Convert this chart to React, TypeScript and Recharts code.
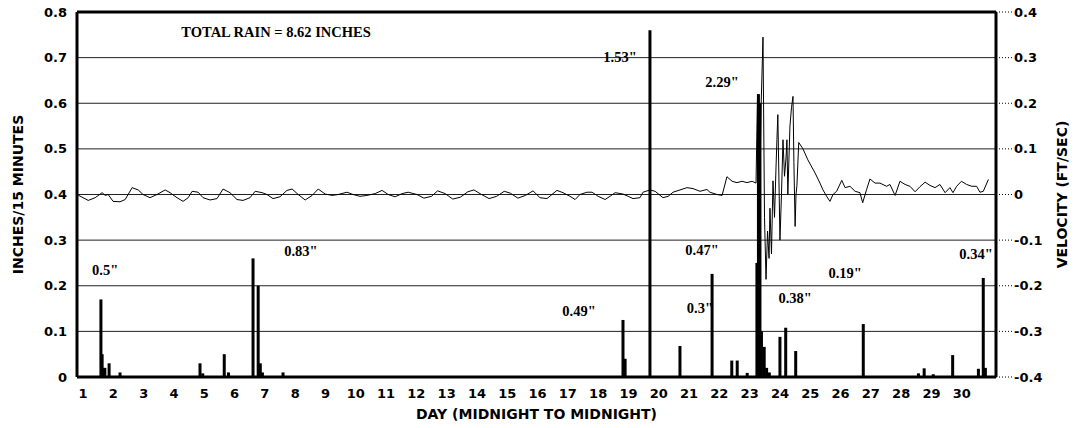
import React from 'react';
import {
  ComposedChart, Bar, Line, XAxis, YAxis, CartesianGrid, ReferenceLine, ReferenceDot,
} from 'recharts';

// ---- data ----
const dayTicks = [1, 2, 3, 4, 5, 6, 7, 8, 9, 10, 11, 12, 13, 14, 15, 16, 17, 18, 19, 20, 21, 22, 23, 24, 25, 26, 27, 28, 29, 30];
const rainTicks = [0, 0.1, 0.2, 0.3, 0.4, 0.5, 0.6, 0.7, 0.8];
const velTicks = [-0.4, -0.3, -0.2, -0.1, 0, 0.1, 0.2, 0.3, 0.4];

const rainDays = [1.59, 1.63, 1.67, 1.72, 1.86, 2.22, 4.86, 4.95, 5.66, 5.80, 6.61, 6.78, 6.85, 6.92, 7.60,
  18.82, 18.89, 19.71, 20.70, 21.76, 22.41, 22.59, 22.92, 23.24, 23.29, 23.34, 23.39, 23.48, 23.56, 23.65,
  24.0, 24.19, 24.52, 26.75, 28.57, 28.76, 29.06, 29.70, 30.55, 30.71, 30.78];
const rainValues = [0.17, 0.05, 0.02, 0.02, 0.03, 0.01, 0.03, 0.008, 0.05, 0.01, 0.26, 0.2, 0.03, 0.01, 0.01,
  0.125, 0.04, 0.76, 0.068, 0.226, 0.036, 0.036, 0.009, 0.25, 0.62, 0.6, 0.1, 0.066, 0.02, 0.01,
  0.088, 0.108, 0.057, 0.116, 0.008, 0.019, 0.006, 0.048, 0.018, 0.217, 0.02];

const velDays = [0.80, 1.17, 1.40, 1.63, 1.73, 1.83, 1.99, 2.22, 2.39, 2.62, 2.82, 2.98, 3.21, 3.44, 3.71, 3.87,
  4.10, 4.30, 4.47, 4.60, 4.80, 4.96, 5.19, 5.42, 5.62, 5.85, 6.08, 6.28, 6.51, 6.68, 6.91, 7.07, 7.27, 7.50,
  7.73, 7.90, 8.10, 8.33, 8.56, 8.76, 8.99, 9.22, 9.42, 9.71, 9.91, 10.14, 10.37, 10.64, 10.87, 11.07, 11.30,
  11.53, 11.73, 12.02, 12.25, 12.5, 12.7, 12.95, 13.2, 13.45, 13.7, 13.9, 14.15, 14.4, 14.65, 14.9, 15.1,
  15.35, 15.6, 15.85, 16.08, 16.31, 16.64, 16.84, 17.07, 17.24, 17.40, 17.63, 17.80, 18.0, 18.23, 18.39,
  18.56, 18.82, 18.99, 19.15, 19.38, 19.48, 19.71, 19.88, 20.14, 20.31, 20.47, 20.70, 20.93, 21.13, 21.36,
  21.59, 21.69, 21.92, 22.09, 22.25, 22.42, 22.58, 22.75, 22.91, 23.08, 23.21,
  23.26, 23.31, 23.38, 23.44, 23.49, 23.54, 23.59, 23.64, 23.67, 23.72, 23.77, 23.82, 23.87, 23.90, 23.93,
  24.0, 24.05, 24.10, 24.15, 24.20, 24.23, 24.26, 24.33, 24.38, 24.43, 24.46, 24.50, 24.53, 24.56, 24.62,
  24.76, 24.92, 25.16, 25.32, 25.42, 25.55, 25.65,
  25.75, 25.87, 26.04, 26.15, 26.31, 26.48, 26.64, 26.73, 26.86, 26.97, 27.14, 27.30, 27.52, 27.63, 27.80,
  27.96, 28.13, 28.29, 28.46, 28.62, 28.79, 28.95, 29.12, 29.28, 29.45, 29.61, 29.71, 29.83, 29.99, 30.16,
  30.33, 30.49, 30.60, 30.71, 30.88];
const velValues = [0, -0.013, -0.007, 0.004, -0.002, 0, -0.015, -0.016, -0.011, 0.015, 0.01, 0, -0.007, 0, 0.01, 0.004,
  -0.007, -0.015, -0.007, 0.007, 0.005, -0.007, -0.012, -0.009, 0.012, 0.004, -0.011, -0.013, -0.007, 0.007, 0.004, 0, -0.009, -0.005,
  0.009, 0.012, 0, -0.012, -0.002, 0.012, 0.001, -0.002, 0, 0.005, 0, -0.004, -0.002, 0.002, 0.009, 0, -0.005,
  0.002, 0.005, 0, -0.008, -0.004, 0.008, 0.002, -0.01, -0.006, 0.006, 0.01, 0, -0.009, -0.004, 0.007, 0.003,
  -0.008, -0.002, 0.008, -0.007, -0.009, 0.009, 0.004, -0.004, -0.011, 0, 0.005, 0.005, -0.004, -0.011, -0.004,
  0.004, 0.001, -0.004, -0.009, -0.007, 0.005, 0.01, 0.007, -0.007, -0.004, 0.005, 0.01, 0.015, 0.013, 0.007,
  0.011, 0.005, 0, -0.002, 0.039, 0.029, 0.026, 0.029, 0.026, 0.029, 0.025,
  0.22, -0.05, 0.2, 0.345, -0.05, -0.186, -0.08, -0.14, -0.03, -0.13, 0.03, -0.05, 0.06, 0.12, 0.175,
  -0.1, 0, 0.12, 0.04, 0.08, 0.12, 0, 0.15, 0.19, 0.215, 0.07, -0.07, 0, 0.02, 0.114,
  0.1, 0.076, 0.047, 0.025, 0.01, -0.005, -0.015,
  0, 0.007, 0.031, 0.015, 0.018, 0.007, 0.004, -0.018, 0.011, 0.034, 0.025, 0.025, 0.018, 0.022, -0.002,
  0.029, 0.022, 0.018, 0.006, 0.017, 0.027, 0.02, 0.015, 0.022, 0.004, 0.015, 0.004, 0.018, 0.029, 0.022,
  0.018, 0.018, 0.005, 0.007, 0.033];

const noteTexts = ['TOTAL RAIN = 8.62 INCHES', '1.53"', '2.29"', '0.5"', '0.83"', '0.49"', '0.47"', '0.3"', '0.38"', '0.19"', '0.34"'];
const noteDays = [7.37, 18.72, 22.09, 1.73, 8.19, 17.37, 21.43, 21.36, 24.5, 26.15, 30.47];
const noteRain = [0.757, 0.702, 0.647, 0.235, 0.276, 0.145, 0.278, 0.151, 0.173, 0.228, 0.27];

// build chart table
const table: Record<number, { day: number; rain?: number; vel?: number }> = {};
rainDays.forEach((d, i) => { table[d] = { ...(table[d] || { day: d }), rain: rainValues[i] }; });
velDays.forEach((d, i) => { table[d] = { ...(table[d] || { day: d }), vel: velValues[i] }; });
const chartData = Object.values(table).sort((a, b) => a.day - b.day);

const tickFont = { fontFamily: '"DejaVu Sans", sans-serif', fontWeight: 'bold', fontSize: 13, fill: '#000' };
const titleFont = { fontFamily: '"DejaVu Sans", sans-serif', fontWeight: 'bold', fontSize: 14, fill: '#000' };
const noteFont = { fontFamily: '"Liberation Serif", "Times New Roman", serif', fontWeight: 'bold', fontSize: 14.5, fill: '#000' };

const fmt = (v: number) => (v === 0 ? '0' : v.toFixed(1));

const SpikeBar = (props: any) => {
  const { x, y, width, height } = props;
  if (height == null || !isFinite(height) || height <= 0) return null;
  const cx = x + width / 2;
  return <rect x={cx - 1.5} y={y} width={3} height={height} fill="#000" />;
};

export default function App() {
  return (
    <div style={{ position: 'absolute', left: 0, top: 0, width: 1076, height: 428, background: '#fff' }}>
      <ComposedChart
        width={1076}
        height={428}
        data={chartData}
        margin={{ top: 12, right: 0, bottom: 0, left: 0 }}
      >
        <CartesianGrid yAxisId="rain" vertical={false} stroke="#222" strokeWidth={1} />
        <XAxis
          dataKey="day"
          type="number"
          domain={[0.8, 31.13]}
          ticks={dayTicks}
          interval={0}
          height={51}
          tickSize={0}
          tickMargin={12}
          tick={tickFont}
          axisLine={{ stroke: '#000', strokeWidth: 3 }}
          allowDataOverflow
          label={{
            content: (p: any) => {
              const vb = p.viewBox;
              return (
                <text x={vb.x + vb.width / 2} y={vb.y + 42} textAnchor="middle" style={titleFont}>
                  DAY (MIDNIGHT TO MIDNIGHT)
                </text>
              );
            },
          }}
        />
        <YAxis
          yAxisId="rain"
          orientation="left"
          domain={[0, 0.8]}
          ticks={rainTicks}
          tickFormatter={fmt}
          width={77}
          tickSize={0}
          tickMargin={10}
          tick={tickFont}
          axisLine={{ stroke: '#000', strokeWidth: 3 }}
          label={{
            content: (p: any) => {
              const vb = p.viewBox;
              const cx = vb.x + 18;
              const cy = vb.y + vb.height / 2;
              return (
                <text x={cx} y={cy} transform={`rotate(-90 ${cx} ${cy})`} textAnchor="middle" dominantBaseline="central" style={titleFont}>
                  INCHES/15 MINUTES
                </text>
              );
            },
          }}
        />
        <YAxis
          yAxisId="vel"
          orientation="right"
          domain={[-0.4, 0.4]}
          ticks={velTicks}
          tickFormatter={fmt}
          width={80}
          tickSize={16}
          tickMargin={2}
          tick={tickFont}
          tickLine={{ stroke: '#000', strokeDasharray: '1 2' }}
          axisLine={{ stroke: '#000', strokeWidth: 3 }}
          label={{
            content: (p: any) => {
              const vb = p.viewBox;
              const cx = vb.x + 66;
              const cy = vb.y + vb.height / 2;
              return (
                <text x={cx} y={cy} transform={`rotate(-90 ${cx} ${cy})`} textAnchor="middle" dominantBaseline="central" style={titleFont}>
                  VELOCITY (FT/SEC)
                </text>
              );
            },
          }}
        />
        <ReferenceLine yAxisId="rain" y={0.8} stroke="#000" strokeWidth={3} />
        <Bar yAxisId="rain" dataKey="rain" fill="#000" barSize={3} shape={SpikeBar} isAnimationActive={false} />
        <Line
          yAxisId="vel"
          dataKey="vel"
          type="linear"
          stroke="#000"
          strokeWidth={1}
          dot={false}
          connectNulls
          isAnimationActive={false}
        />
        {noteTexts.map((t, i) => (
          <ReferenceDot
            key={t}
            yAxisId="rain"
            x={noteDays[i]}
            y={noteRain[i]}
            r={0}
            fill="none"
            stroke="none"
            label={{ value: t, position: 'center', style: noteFont }}
          />
        ))}
      </ComposedChart>
    </div>
  );
}
